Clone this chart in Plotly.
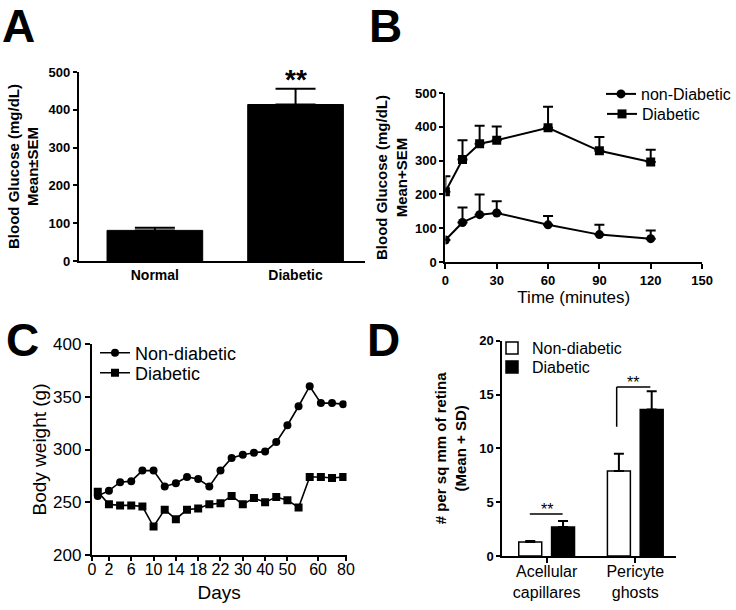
"""Diabetes model summary figure: glucose, GTT, body weight and retinal lesions."""

import plotly.graph_objects as go

FONT = "Arial, Liberation Sans, sans-serif"
W, H = 736, 610

# Panel A - blood glucose
GLUCOSE_GROUPS = ["Normal", "Diabetic"]
GLUCOSE_MEAN = [81, 414]
GLUCOSE_SEM = [7, 42]

# Panel B - glucose tolerance test
GTT_TIME = [0, 10, 20, 30, 60, 90, 120]
GTT_NONDIAB_MEAN = [65, 117, 140, 145, 110, 81, 69]
GTT_NONDIAB_SEM = [0, 44, 60, 35, 26, 29, 24]
GTT_DIAB_MEAN = [208, 303, 350, 360, 397, 329, 296]
GTT_DIAB_SEM = [46, 57, 53, 41, 62, 41, 36]

# Panel C - body weight (one value per weighing, x = weighing number)
WEIGHING = list(range(23))
WEIGHT_NONDIAB = [256, 261, 269, 270, 280, 280, 265, 268, 274, 272, 265, 280,
                  292, 295, 297, 298, 307, 323, 341, 360, 344, 344, 343]
WEIGHT_DIAB = [260, 248, 247, 247, 246, 227, 243, 234, 243, 244, 248, 249,
               256, 248, 254, 250, 255, 252, 245, 274, 274, 273, 274]
DAY_TICK_LABELS = ["0", "2", "6", "10", "14", "18", "22", "30", "40", "50", "60", "80"]
DAY_TICK_POS = [-0.53, 1, 3, 5, 7, 9, 11, 13, 15, 17, 19.75, 22.25]

# Panel D - retinal lesions
LESION_TYPES = ["Acellular<br>capillares", "Pericyte<br>ghosts"]
LESION_NONDIAB_MEAN = [1.3, 7.9]
LESION_NONDIAB_SD = [0.1, 1.6]
LESION_DIAB_MEAN = [2.7, 13.6]
LESION_DIAB_SD = [0.55, 1.7]


def px_x(p):
    return p / W


def px_y(p):
    return 1 - p / H


def axis_style(**kw):
    base = dict(
        showline=True, linecolor="black", linewidth=2,
        ticks="outside", ticklen=5, tickwidth=2, tickcolor="black",
        showgrid=False, zeroline=False, automargin=False,
        tickfont=dict(family=FONT, size=13, color="black", weight="bold"),
    )
    base.update(kw)
    return base


def legend_at(x, y, size):
    # one legend per entry so the row spacing can follow the reference
    return dict(x=px_x(x), y=px_y(y), xanchor="left", yanchor="middle",
                bgcolor="rgba(0,0,0,0)",
                font=dict(family=FONT, size=size, color="black"))


def up_err(values, width):
    return dict(type="data", array=values, arrayminus=[0] * len(values),
                symmetric=False, color="black", thickness=2, width=width)


fig = go.Figure()

# A
fig.add_trace(go.Bar(
    x=GLUCOSE_GROUPS, y=GLUCOSE_MEAN, width=0.68,
    marker=dict(color="black", line=dict(color="black", width=1)),
    error_y=up_err(GLUCOSE_SEM, 20),
    xaxis="x", yaxis="y", showlegend=False,
))

# B
fig.add_trace(go.Scatter(
    x=GTT_TIME, y=GTT_NONDIAB_MEAN, name="non-Diabetic", mode="lines+markers",
    line=dict(color="black", width=2), marker=dict(symbol="circle", size=9, color="black"),
    error_y=up_err(GTT_NONDIAB_SEM, 5),
    xaxis="x2", yaxis="y2", legend="legend",
))
fig.add_trace(go.Scatter(
    x=GTT_TIME, y=GTT_DIAB_MEAN, name="Diabetic", mode="lines+markers",
    line=dict(color="black", width=2), marker=dict(symbol="square", size=9, color="black"),
    error_y=up_err(GTT_DIAB_SEM, 5),
    xaxis="x2", yaxis="y2", legend="legend2",
))

# C
fig.add_trace(go.Scatter(
    x=WEIGHING, y=WEIGHT_NONDIAB, name="Non-diabetic", mode="lines+markers",
    line=dict(color="black", width=1.6), marker=dict(symbol="circle", size=8, color="black"),
    xaxis="x3", yaxis="y3", legend="legend3",
))
fig.add_trace(go.Scatter(
    x=WEIGHING, y=WEIGHT_DIAB, name="Diabetic", mode="lines+markers",
    line=dict(color="black", width=1.6), marker=dict(symbol="square", size=8, color="black"),
    xaxis="x3", yaxis="y3", legend="legend4",
))

# D
fig.add_trace(go.Bar(
    x=LESION_TYPES, y=LESION_NONDIAB_MEAN, name="Non-diabetic",
    marker=dict(color="white", line=dict(color="black", width=1.5)),
    error_y=up_err(LESION_NONDIAB_SD, 5),
    xaxis="x4", yaxis="y4", legend="legend5",
))
fig.add_trace(go.Bar(
    x=LESION_TYPES, y=LESION_DIAB_MEAN, name="Diabetic",
    marker=dict(color="black", line=dict(color="black", width=1.5)),
    error_y=up_err(LESION_DIAB_SD, 5),
    xaxis="x4", yaxis="y4", legend="legend6",
))

# significance brackets for D, placed just above the error bars
diab_top = [m + s for m, s in zip(LESION_DIAB_MEAN, LESION_DIAB_SD)]
nondiab_top = [m + s for m, s in zip(LESION_NONDIAB_MEAN, LESION_NONDIAB_SD)]
line_style = dict(color="black", width=1.5)
shapes = [
    dict(type="line", xref="x4", yref="y4", x0=-0.19, x1=0.18,
         y0=diab_top[0] + 0.65, y1=diab_top[0] + 0.65, line=line_style),
    dict(type="line", xref="x4", yref="y4", x0=0.79, x1=0.79,
         y0=nondiab_top[1] + 2.5, y1=diab_top[1] + 0.4, line=line_style),
    dict(type="line", xref="x4", yref="y4", x0=0.79, x1=1.17,
         y0=diab_top[1] + 0.4, y1=diab_top[1] + 0.4, line=line_style),
]

annotations = []
for letter, lx in [("A", 0), ("B", 367), ("C", 4), ("D", 365)]:
    ly = 26 if letter in "AB" else 340
    annotations.append(dict(
        text=letter, xref="paper", yref="paper", x=px_x(lx), y=px_y(ly),
        xanchor="left", yanchor="middle", showarrow=False,
        font=dict(family=FONT, size=46, color="black", weight="bold"),
    ))

annotations.append(dict(
    text="**", xref="x", yref="y", x=GLUCOSE_GROUPS[1],
    y=GLUCOSE_MEAN[1] + GLUCOSE_SEM[1], yanchor="bottom", yshift=-8,
    showarrow=False, font=dict(family=FONT, size=28, color="black", weight="bold"),
))
annotations.append(dict(
    text="**", xref="x4", yref="y4", x=0, y=diab_top[0] + 0.65,
    yanchor="bottom", yshift=-6, showarrow=False,
    font=dict(family=FONT, size=16, color="black"),
))
annotations.append(dict(
    text="**", xref="x4", yref="y4", x=0.97, y=diab_top[1] + 0.4,
    yanchor="bottom", yshift=-6, showarrow=False,
    font=dict(family=FONT, size=16, color="black"),
))

bold15 = dict(family=FONT, size=15, color="black", weight="bold")
reg16 = dict(family=FONT, size=16, color="black")
reg17 = dict(family=FONT, size=17, color="black")

fig.update_layout(
    width=W, height=610,
    margin=dict(l=0, r=0, t=0, b=0),
    paper_bgcolor="white", plot_bgcolor="white",
    font=dict(family=FONT, color="black"),
    barmode="group", bargap=0.26, bargroupgap=0.3,
    shapes=shapes, annotations=annotations,
    xaxis=axis_style(
        domain=[px_x(79), px_x(365)], anchor="y", ticks="",
        range=[-0.54, 1.49],
        tickfont=dict(family=FONT, size=14, color="black", weight="bold"),
    ),
    yaxis=axis_style(
        domain=[px_y(261), px_y(72)], anchor="x", range=[0, 500], dtick=100,
        ticklen=4,
        title=dict(text="Blood Glucose (mg/dL)<br>Mean±SEM", font=bold15, standoff=6),
    ),
    xaxis2=axis_style(
        domain=[px_x(446), px_x(703)], anchor="y2", range=[0, 150], dtick=30,
        title=dict(text="Time (minutes)", font=reg17, standoff=0),
    ),
    yaxis2=axis_style(
        domain=[px_y(262), px_y(93)], anchor="x2", range=[0, 500], dtick=100,
        ticklen=4,
        title=dict(text="Blood Glucose (mg/dL)<br>Mean+SEM", font=bold15, standoff=4),
    ),
    xaxis3=axis_style(
        domain=[px_x(92), px_x(347)], anchor="y3", range=[-0.53, 22.3],
        tickvals=DAY_TICK_POS, ticktext=DAY_TICK_LABELS, ticklen=4,
        ticklabelstandoff=-5,
        tickfont=dict(family=FONT, size=16, color="black"),
        title=dict(text="Days", font=dict(family=FONT, size=19, color="black"), standoff=8),
    ),
    yaxis3=axis_style(
        domain=[px_y(555), px_y(344)], anchor="x3", range=[200, 400], dtick=50,
        tickfont=dict(family=FONT, size=17, color="black"),
        title=dict(text="Body weight (g)", font=dict(family=FONT, size=19, color="black"),
                   standoff=1),
    ),
    xaxis4=axis_style(
        domain=[px_x(503), px_x(677)], anchor="y4", range=[-0.5, 1.46],
        ticklabelstandoff=-5, tickfont=reg16,
    ),
    yaxis4=axis_style(
        domain=[px_y(556), px_y(340.7)], anchor="x4", range=[0, 20], dtick=5,
        ticklen=4,
        title=dict(text="# per sq mm of retina<br>(Mean + SD)", font=bold15, standoff=9),
    ),
    legend=legend_at(602, 94, 16),
    legend2=legend_at(602, 114, 16),
    legend3=legend_at(95, 353, 18),
    legend4=legend_at(95, 373, 18),
    legend5=legend_at(492, 348, 16),
    legend6=legend_at(492, 367, 16),
)

# drop the browser's default page margin so the figure sits at the window corner
fig.write_html(
    "out.html",
    config={"displayModeBar": False},
    post_script="document.body.style.margin = '0';",
)
